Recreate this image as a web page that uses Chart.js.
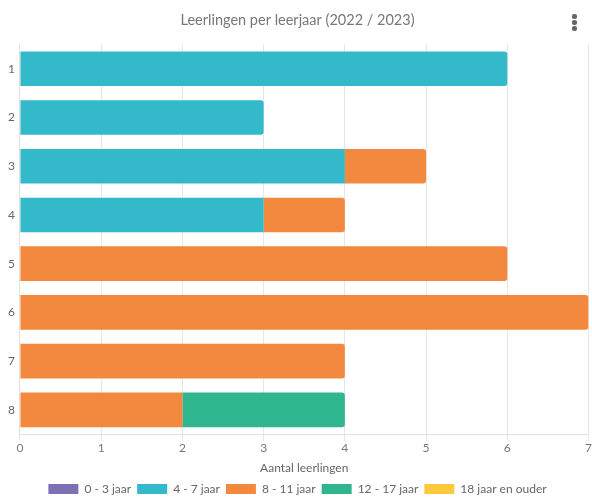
<!DOCTYPE html>
<html>
<head>
<meta charset="utf-8">
<script src="https://cdn.jsdelivr.net/npm/chart.js@4"></script>
<style>
  html, body { margin: 0; background: #fff; overflow: hidden; }
  #wrap { position: relative; width: 592px; height: 503px; overflow: hidden; }
  #menu { position: absolute; left: 572px; top: 14px; width: 5px; }
  #menu span { display: block; width: 5px; height: 5px; border-radius: 2px; background: #666; margin-bottom: 1px; }
</style>
</head>
<body>
<div id="wrap">
  <canvas id="myChart" width="592" height="505"></canvas>
  <div id="menu"><span></span><span></span><span></span></div>
</div>
<script>
const leerjaren = ["1", "2", "3", "4", "5", "6", "7", "8"];
const jaar0tot3 = [0, 0, 0, 0, 0, 0, 0, 0];
const jaar4tot7 = [6, 3, 4, 3, 0, 0, 0, 0];
const jaar8tot11 = [0, 0, 1, 1, 6, 7, 4, 2];
const jaar12tot17 = [0, 0, 0, 0, 0, 0, 0, 2];
const jaar18plus = [0, 0, 0, 0, 0, 0, 0, 0];

const allSeries = [jaar0tot3, jaar4tot7, jaar8tot11, jaar12tot17, jaar18plus];

// round only the outer end of the last non-empty segment
function endRadius(ctx) {
  const i = ctx.dataIndex;
  for (let d = allSeries.length - 1; d >= 0; d--) {
    if (allSeries[d][i] > 0) {
      return d === ctx.datasetIndex ? { topRight: 3, bottomRight: 3 } : 0;
    }
  }
  return 0;
}

function makeSet(label, data, color) {
  return {
    label: label,
    data: data,
    backgroundColor: color,
    borderRadius: endRadius,
    borderSkipped: false,
    barPercentage: 0.71,
    categoryPercentage: 1,
  };
}

const ctx = document.getElementById("myChart");
Chart.defaults.font.family = "Lato, sans-serif";
Chart.defaults.color = "#666";

new Chart(ctx, {
  type: "bar",
  data: {
    labels: leerjaren,
    datasets: [
      makeSet("0 - 3 jaar", jaar0tot3, "#7f70b3"),
      makeSet("4 - 7 jaar", jaar4tot7, "#33b9c9"),
      makeSet("8 - 11 jaar", jaar8tot11, "#f2893e"),
      makeSet("12 - 17 jaar", jaar12tot17, "#2fb68f"),
      makeSet("18 jaar en ouder", jaar18plus, "#fcc83c"),
    ],
  },
  options: {
    responsive: false,
    animation: false,
    indexAxis: "y",
    layout: { padding: { left: 3, right: 0, top: 6, bottom: 0 } },
    plugins: {
      title: {
        display: true,
        text: "Leerlingen per leerjaar (2022 / 2023)",
        color: "#777",
        font: { size: 14.5, weight: "normal" },
        padding: { top: 6, bottom: 15 },
      },
      legend: {
        position: "bottom",
        labels: {
          boxWidth: 30,
          boxHeight: 10,
          padding: 6,
          color: "#666",
          font: { size: 12 },
        },
      },
      tooltip: { enabled: false },
    },
    scales: {
      x: {
        stacked: true,
        min: 0,
        max: 7,
        ticks: { stepSize: 1, color: "#777", font: { size: 12 }, padding: 0 },
        grid: { color: "#e6e6e6", tickLength: 7 },
        border: { color: "#e0e0e0" },
        title: {
          display: true,
          text: "Aantal leerlingen",
          color: "#666",
          font: { size: 12 },
          padding: { top: 5, bottom: 2 },
        },
      },
      y: {
        stacked: true,
        ticks: { color: "#666", font: { size: 12 }, padding: 5 },
        grid: { display: false, drawTicks: false },
        border: { color: "#e0e0e0" },
      },
    },
  },
});
</script>
</body>
</html>
